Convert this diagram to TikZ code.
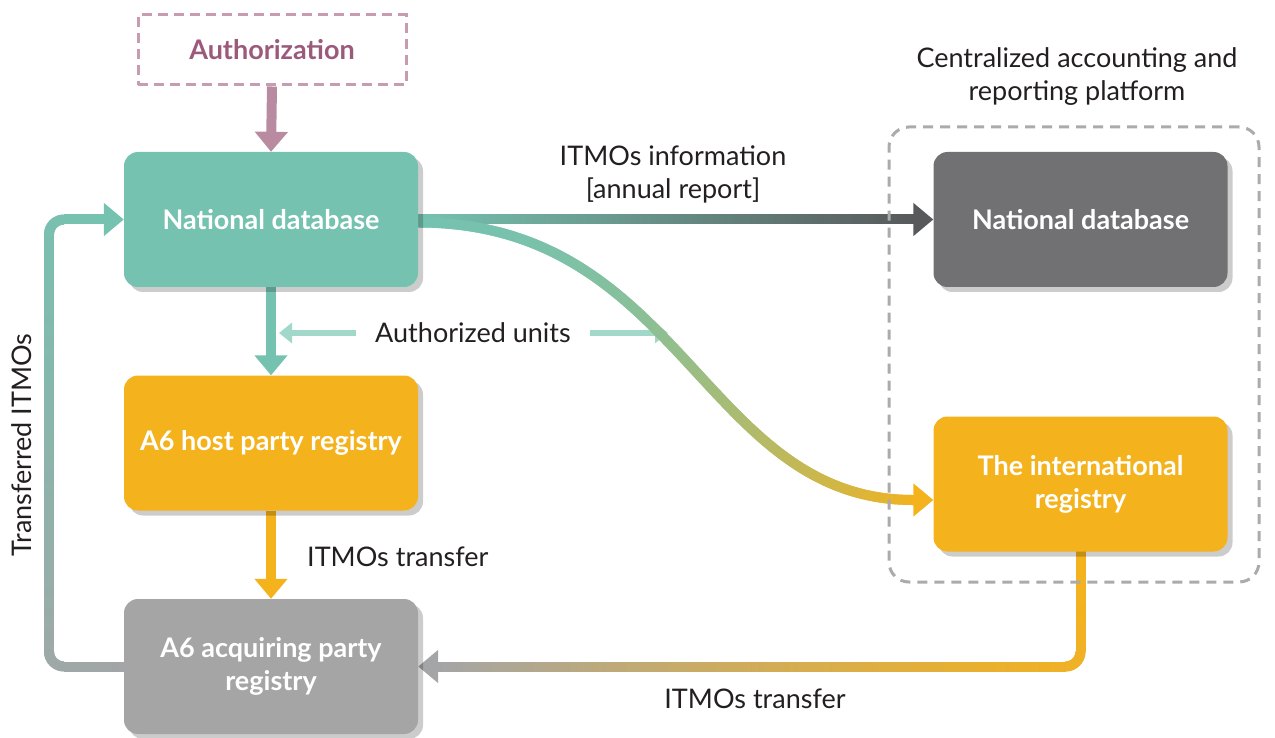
\documentclass[tikz,border=0pt]{standalone}
\usepackage{fontspec}
\setmainfont{Lato}
\usetikzlibrary{arrows.meta,shadows,decorations.markings,calc}
\definecolor{teal1}{HTML}{75C2B0}
\definecolor{yel}{HTML}{F4B21D}
\definecolor{lgray}{HTML}{A5A5A5}
\definecolor{dgray}{HTML}{717173}
\definecolor{darr}{HTML}{58595B}
\definecolor{mauve}{HTML}{B98BA0}
\definecolor{mauvetxt}{HTML}{9B5A7B}
\definecolor{mauvedash}{HTML}{C59CB0}
\definecolor{lteal}{HTML}{A2D8CA}
\definecolor{cgray}{HTML}{ABABAB}
\definecolor{txt}{HTML}{231F20}
\definecolor{arrgray}{HTML}{A3A5A6}
\pgfdeclarelayer{bg}
\pgfsetlayers{bg,main}
\tikzset{
  box/.style={rounded corners=14pt, minimum width=294pt, minimum height=135pt,
    text=white, font=\fontsize{27}{33}\selectfont\bfseries, align=center, inner sep=0pt,
    drop shadow={shadow xshift=5pt, shadow yshift=-5pt, fill=black, opacity=0.2}},
  lbl/.style={text=txt, font=\fontsize{27}{33}\selectfont, align=center, inner sep=0pt},
  bigtip/.style={line width=10pt, -{Triangle[width=32pt,length=20pt]}},
  smalltip/.style={line width=6pt, lteal, -{Triangle[width=20pt,length=13pt]}},
  gradline/.style n args={4}{postaction={decorate, decoration={markings,
    mark=between positions 0 and 1 step 0.7pt with {
      \pgfmathsetmacro\gp{100*((\pgfkeysvalueof{/pgf/decoration/mark info/distance from start}/\pgfdecoratedpathlength)^#4)}
      \fill[#2!\gp!#1, sharp corners] (-0.7pt,-#3/2) rectangle (0.7pt,#3/2);
    }}}},
}
\begin{document}
\begin{tikzpicture}[x=1pt,y=-1pt]
\useasboundingbox (0,0) rectangle (1275,738);
% boxes
\node[draw=mauvedash, line width=3pt, dash pattern=on 10pt off 6pt, minimum width=268pt, minimum height=70pt,
  text=mauvetxt, font=\fontsize{27}{33}\selectfont\bfseries, inner sep=0pt] (auth) at (272,50) {Authorization};
\node[box, fill=teal1] (ndb) at (271,219.5) {National database};
\node[box, fill=yel] (host) at (271,443) {A6 host party registry};
\node[box, fill=lgray] (acq) at (271,666.5) {A6 acquiring party\\registry};
\node[box, fill=dgray] (rdb) at (1080.5,219.5) {National database};
\node[box, fill=yel] (intl) at (1080.5,484) {The international\\registry};
\node[draw=cgray, line width=3pt, dash pattern=on 10pt off 7pt, rounded corners=20pt,
  minimum width=370pt, minimum height=455pt, inner sep=0pt] (plat) at (1074,354.5) {};
% labels
\node[lbl] (title) at (1077,76.5) {Centralized accounting and\\reporting platform};
\node[lbl] (info) at (673,174) {ITMOs information\\{[annual report]}};
\node[lbl] (au) at (473,333) {Authorized units};
\node[lbl, anchor=west] (t1) at (307,557) {ITMOs transfer};
\node[lbl] (t2) at (755,699) {ITMOs transfer};
\node[lbl, rotate=90] (t3) at (22,445) {Transferred ITMOs};
\coordinate (lx) at (49,0);
\coordinate (auL) at ($(ndb.south |- au)+(8,0)$);
\coordinate (auR) at (668,333);
% connectors
\begin{pgfonlayer}{bg}
\draw[bigtip, mauve] (auth.south) -- (ndb.north);
\draw[bigtip, teal1] (ndb.south) -- (host.north);
\draw[bigtip, yel] (host.south) -- (acq.north);
\draw[smalltip] ($(au.west)+(-19,0)$) -- (auL);
\draw[smalltip] ($(au.east)+(19,0)$) -- (auR);
% top straight
\path[gradline={teal1}{darr}{10pt}{1}] (ndb.east) -- ($(rdb.west)+(-20,0)$);
\draw[bigtip, darr] ($(rdb.west)+(-21,0)$) -- (rdb.west);
% curve
\path[gradline={teal1}{yel}{10pt}{2}] ($(ndb.east)+(0,3)$) .. controls +(265,0) and +(-210,0) .. ($(intl.west)+(-20,16)$);
\draw[bigtip, yel] ($(intl.west)+(-21,16)$) -- ($(intl.west)+(0,16)$);
% transferred ITMOs loop
\path[gradline={arrgray}{teal1}{10pt}{1}, rounded corners=15pt] (acq.west) -- (acq.west -| lx) -- (ndb.west -| lx) -- ($(ndb.west)+(-20,0)$);
\draw[bigtip, teal1] ($(ndb.west)+(-21,0)$) -- (ndb.west);
% bottom transfer
\path[gradline={yel}{arrgray}{10pt}{1.5}, rounded corners=15pt] (intl.south) -- (intl.south |- acq.east) -- ($(acq.east)+(20,0)$);
\draw[bigtip, arrgray] ($(acq.east)+(21,0)$) -- (acq.east);
\end{pgfonlayer}
\end{tikzpicture}
\end{document}
